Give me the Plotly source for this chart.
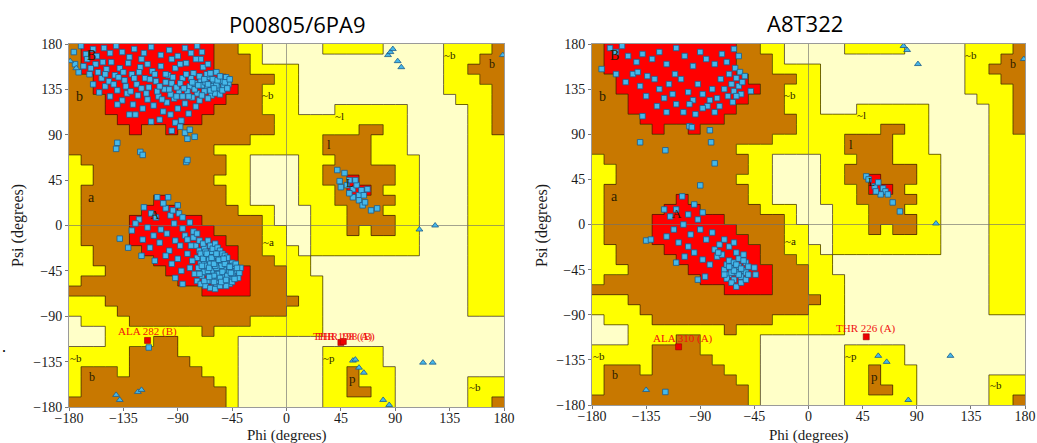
import plotly.graph_objects as go

# ---------------- region map (PROCHECK style, 10 degree cells) ----------------
# rows: psi 180 -> -180 (top to bottom), columns: phi -180 -> 180
# W = disallowed, Y = generously allowed, B = additionally allowed, R = core
REGION_RLE = [
    "B1 R11 B2 Y2 W5 Y5 W5 Y4 B1",
    "B1 R11 B3 Y1 W15 Y3 B2",
    "B1 R11 B3 Y4 W12 Y2 B3",
    "B2 R11 B4 Y2 W12 Y3 B2",
    "B2 R12 B2 Y3 W12 Y4 B1",
    "B3 R10 B3 Y3 W13 Y3 B1",
    "B3 R9 B4 Y3 W3 Y6 W5 Y2 B1",
    "B4 R7 B6 Y11 W5 Y2 B1",
    "B5 R1 B2 R1 B8 Y7 B2 Y2 W5 Y2 B1",
    "B15 Y6 B4 Y3 W5 Y3",
    "B12 Y9 B4 Y3 W5 Y3",
    "Y1 B12 Y2 W4 Y3 B3 Y4 W4 Y3",
    "Y2 B11 Y2 W4 Y2 B6 Y2 W4 Y3",
    "Y2 B10 Y3 W4 Y2 B2 R1 B3 Y2 W4 Y3",
    "Y1 B12 Y2 W4 Y3 B1 R2 B1 Y3 W4 Y3",
    "Y1 B6 R1 B5 Y2 W4 Y3 B5 Y2 W4 Y3",
    "Y1 B5 R3 B5 Y3 W3 Y3 B3 Y3 W4 Y3",
    "Y1 B4 R6 B5 Y1 W3 Y3 B4 Y2 W4 Y3",
    "Y1 B4 R7 B4 Y2 W2 Y3 B1 Y1 B2 Y2 W4 Y3",
    "Y1 B4 R8 B3 Y2 W2 Y9 W4 Y3",
    "Y2 B4 R8 B2 Y3 W1 Y9 W4 Y3",
    "Y2 B5 R7 B3 Y3 W13 Y3",
    "Y3 B5 R7 B3 Y2 W13 Y3",
    "Y1 B8 R6 B3 Y3 W12 Y3",
    "B11 R4 B3 Y3 W12 Y3",
    "Y3 B16 Y2 W12 Y3",
    "Y4 B14 Y3 W12 Y3",
    "W1 Y4 B10 Y6 W15",
    "W3 Y8 B1 Y9 W15",
    "W3 Y4 B2 Y5 W22",
    "Y5 B4 Y5 W7 Y5 W10",
    "Y5 B5 Y4 W7 Y5 W10",
    "Y1 B3 Y1 B6 Y3 W7 Y2 B1 Y3 W9",
    "Y1 B11 Y2 W7 Y2 B1 Y3 W6 Y3",
    "Y1 B12 Y1 W7 Y2 B2 Y2 W6 Y3",
    "B13 Y1 W7 Y6 W6 Y2 B1",
]
REGION_CODES = {"W": 0, "Y": 1, "B": 2, "R": 3}
REGION_COLORS = ["#FFFFC8", "#FFFF00", "#C87800", "#FF0000"]

PHI_CENTERS = [-175 + 10 * i for i in range(36)]
PSI_CENTERS = [175 - 10 * j for j in range(36)]
TICKS = [-180, -135, -90, -45, 0, 45, 90, 135, 180]

REGION_LABELS = [
    ("B", -161, 169, 14), ("b", -171, 128, 14), ("a", -161, 28, 14), ("A", -109, 11, 13),
    ("~b", -15, 129, 11), ("~l", 44, 109, 11), ("l", 35, 80, 13), ("L", 52, 42, 12),
    ("~a", -15, -16, 11), ("~b", -174, -131, 11), ("b", -161, -150, 12),
    ("~p", 35, -131, 11), ("p", 55, -152, 13), ("~b", 156, -160, 11),
    ("~b", 135, 169, 11), ("b", 170, 160, 12),
]

# ---------------- residues, left panel (P00805/6PA9) ----------------
LEFT_RES = [
    (-176,172),(-170,178),(-166,170),(-160,175),(-157,168),(-151,176),(-146,171),(-141,178),(-136,172),(-130,167),
    (-126,175),(-118,171),(-112,177),(-104,169),(-97,174),(-90,168),(-84,176),(-79,171),(-74,178),(-71,165),
    (-168,158),(-163,150),(-158,160),(-153,146),(-149,155),(-145,162),(-142,149),(-138,156),(-134,144),(-131,161),
    (-128,150),(-124,140),(-121,157),(-117,146),(-114,137),(-111,153),(-108,143),(-104,158),(-101,135),(-98,149),
    (-95,141),(-92,156),(-89,133),(-86,146),(-83,161),(-80,138),(-77,151),(-74,131),(-71,144),(-69,157),
    (-66,136),(-64,147),(-62,129),(-60,141),(-58,152),(-56,134),(-54,143),(-52,138),(-50,147),(-48,140),
    (-160,140),(-155,132),(-150,138),(-146,128),(-140,134),(-136,124),(-132,131),(-127,120),(-123,129),(-119,116),
    (-115,125),(-110,119),(-106,128),(-102,113),(-99,122),(-96,110),(-93,126),(-90,116),(-87,104),(-84,121),
    (-81,111),(-78,127),(-75,118),(-72,124),(-68,133),(-65,126),(-62,138),(-59,131),(-57,137),(-55,130),
    (-70,139),(-67,142),(-63,134),(-61,145),(-58,139),(-66,150),(-72,148),(-76,141),(-79,146),(-82,133),
    (-86,128),(-91,137),(-96,130),(-100,142),(-107,133),(-92,102),(-88,98),(-84,92),(-95,94),(-80,95),
    (-76,88),(-82,86),(-140,82),(-141,76),(-121,73),(-119,70),(-83,63),(-82,65),(-112,103),(-130,110),
    (-150,150),(-175,160),(-172,152),
    (-165,165),(-162,156),(-156,152),(-152,162),(-147,143),(-143,140),(-139,147),(-135,152),(-133,138),(-129,133),
    (-126,146),(-122,152),(-120,136),(-116,131),(-113,145),(-109,150),(-105,138),(-103,125),(-100,150),(-97,135),
    (-94,147),(-91,128),(-88,141),(-85,136),(-83,150),(-81,128),(-78,142),(-76,135),(-73,139),(-70,129),
    (-68,145),(-65,140),(-63,151),(-60,136),(-57,144),(-55,148),(-53,134),(-51,142),(-49,136),(-47,145),
    (-120,165),(-115,160),(-95,165),(-88,160),(-75,165),(-70,172),(-65,160),(-140,120),(-125,110),(-105,105),
    (-107,28),(-118,18),(-112,12),(-122,6),(-128,-5),(-138,-13),(-131,-22),(-125,2),(-115,-2),(-108,8),
    (-100,17),(-96,10),(-104,-4),(-110,-10),(-119,-14),(-113,-22),(-105,-17),(-99,-8),(-93,2),(-89,12),
    (-86,-3),(-92,-15),(-97,-25),(-88,-20),(-84,-10),(-80,3),(-77,-6),(-82,-28),(-90,-33),(-95,-38),
    (-87,-45),(-92,-52),(-86,-58),(-100,-30),(-109,-35),(-120,-30),
    (-75,-20),(-72,-25),(-70,-30),(-68,-22),(-66,-35),(-64,-28),(-62,-40),(-60,-33),(-58,-45),(-56,-38),
    (-54,-50),(-52,-42),(-50,-47),(-48,-53),(-46,-44),(-44,-49),(-42,-45),(-40,-52),
    (-74,-32),(-71,-38),(-69,-44),(-67,-30),(-65,-42),(-63,-48),(-61,-36),(-59,-52),(-57,-30),(-55,-44),
    (-53,-36),(-51,-55),(-49,-40),(-47,-58),(-45,-37),
    (-73,-42),(-70,-50),(-68,-37),(-66,-47),(-64,-55),(-62,-26),(-60,-43),(-58,-58),(-56,-26),(-54,-32),
    (-52,-50),(-50,-35),(-48,-46),(-46,-52),(-44,-40),
    (-72,-15),(-69,-18),(-65,-15),(-63,-20),(-61,-23),(-59,-18),(-57,-22),(-55,-25),(-53,-28),(-51,-30),
    (-49,-32),(-78,-35),(-80,-42),(-76,-48),(-74,-55),(-71,-58),(-67,-60),(-63,-62),(-59,-63),(-55,-60),
    (-50,-60),(-45,-56),(-42,-38),(-39,-47),(-38,-42),(-66,-40),(-62,-45),(-58,-38),(-56,-48),(-52,-44),
    (-60,-50),(-64,-34),(-68,-46),(-54,-40),(-58,-42),
    (-102,22),(-98,28),(-94,15),(-90,20),(-86,8),(-82,-14),(-79,-20),(-77,-12),(-74,-8),(-71,-28),
    (-69,-33),(-67,-26),(-65,-45),(-63,-38),(-61,-55),(-59,-40),(-57,-55),(-55,-52),(-53,-46),(-51,-38),
    (-49,-50),(-47,-41),(-45,-48),(-43,-53),(-41,-42),(-70,-40),(-72,-48),(-68,-55),(-64,-42),(-60,-38),
    (-56,-34),(-52,-33),(-66,-28),(-62,-32),(-58,-28),(-54,-56),(-50,-54),(-46,-47),(-60,-56),(-64,-51),
    (42,55),(48,52),(44,44),(50,40),(52,45),(55,36),(58,40),(60,30),(62,35),(55,28),
    (60,25),(63,20),(65,23),(70,15),(52,32),(57,45),(64,30),(67,36),(75,17),(45,38),
    (-114,-121),
]
LEFT_GLY = [
    (84,169),(86,172),(88,175),(92,163),(95,157),(179,169),(-179,163),(-174,156),
    (110,-4),(123,0),(113,-136),(121,-136),(55,-134),(57,-133),(60,-141),(64,-146),
    (80,-173),(85,-178),(-141,-168),(-138,-173),(-123,-165),(-120,-163),
]
LEFT_FLAG = [("ALA 282 (B)", -115, -114, -115, -105), ("THR 198 (A)", 45, -116, 47, -110),
             ("THR 198 (B)", 47, -115, 49, -110)]

# ---------------- residues, right panel (A8T322) ----------------
RIGHT_RES = [
    (-165,176),(-160,172),(-155,178),(-150,168),(-143,162),(-138,170),(-130,165),(-124,172),(-118,160),(-110,176),
    (-103,168),(-96,158),(-90,172),(-85,165),(-78,160),(-72,170),(-68,162),(-62,175),(-58,168),(-172,155),
    (-160,150),(-152,142),(-146,150),(-140,138),(-135,128),(-128,145),(-124,135),(-120,126),(-116,140),(-113,130),
    (-110,120),(-106,145),(-100,132),(-96,124),(-92,140),(-88,130),(-84,118),(-80,135),(-76,126),(-73,145),
    (-70,135),(-67,128),(-64,140),(-62,133),(-60,146),(-58,138),(-56,130),(-55,142),(-63,122),(-48,133),
    (-142,152),(-134,148),(-126,118),(-118,112),(-111,150),(-104,112),(-99,120),(-94,110),(-88,116),(-82,124),
    (-78,112),(-74,118),(-66,150),(-61,156),(-57,152),(-53,148),(-60,128),(-138,108),(-99,98),(-97,97),
    (-82,94),(-81,82),(-119,74),(-140,82),(-78,61),(-90,39),
    (-135,-16),(-131,-15),(-105,28),(-115,8),(-110,15),(-120,15),(-100,10),(-95,20),(-88,12),(-92,5),
    (-104,0),(-112,-5),(-118,-12),(-108,-18),(-98,-10),(-90,-5),(-85,-15),(-80,-8),(-95,-28),(-88,-35),
    (-100,-22),(-110,-38),(-103,-32),(-92,-55),(-86,-52),(-78,-25),(-74,-20),(-70,-15),(-76,-32),(-66,-22),
    (-62,-18),(-60,-28),
    (-70,-45),(-68,-40),(-66,-50),(-64,-44),(-62,-55),(-60,-48),(-58,-42),(-56,-52),(-54,-46),(-52,-38),
    (-66,-36),(-62,-38),(-58,-34),(-54,-30),(-68,-54),(-64,-58),(-60,-62),(-56,-58),(-52,-48),(-50,-42),
    (-64,-48),(-60,-40),(-56,-44),(-52,-55),(-58,-50),(-62,-46),(-66,-42),(-70,-50),(-54,-36),(-50,-50),
    (-45,-43),(-44,-50),(-72,-30),(-75,-28),(-82,-40),
    (48,48),(50,45),(55,38),(58,42),(62,36),(64,33),(66,30),(60,30),(70,22),(76,13),(56,33),
    (-119,-167),
]
RIGHT_GLY = [
    (79,178),(82,174),(91,160),(179,165),(106,1),(58,-131),(65,-137),(118,-131),(83,-175),(-135,-165),
]
RIGHT_FLAG = [("ALA 310 (A)", -108, -122, -104, -114), ("THR 226 (A)", 48, -112, 48, -104)]

TITLES = ["P00805/6PA9", "A8T322"]

# ---------------- build figure ----------------
def expand(rle):
    out = ""
    for tok in rle.split():
        out += tok[0] * int(tok[1:])
    assert len(out) == 36, (rle, len(out))
    return out

GRID = [expand(r) for r in REGION_RLE]
Z = [[REGION_CODES[ch] for ch in row] for row in GRID]

seg_x, seg_y = [], []
for r in range(36):
    for c in range(35):
        if GRID[r][c] != GRID[r][c + 1]:
            x = -180 + 10 * (c + 1)
            seg_x += [x, x, None]
            seg_y += [180 - 10 * r, 170 - 10 * r, None]
for r in range(35):
    for c in range(36):
        if GRID[r][c] != GRID[r + 1][c]:
            y = 170 - 10 * r
            seg_x += [-180 + 10 * c, -170 + 10 * c, None]
            seg_y += [y, y, None]

colorscale = [[i / 3, col] for i, col in enumerate(REGION_COLORS)]

fig = go.Figure()
panels = [
    ("x", "y", LEFT_RES, LEFT_GLY, LEFT_FLAG),
    ("x2", "y2", RIGHT_RES, RIGHT_GLY, RIGHT_FLAG),
]
serif = "Liberation Serif, Times New Roman, serif"
dot_color = "#45B8EA"
dot_edge = "#1D5C8C"
for xa, ya, res, gly, flag in panels:
    fig.add_trace(go.Heatmap(x=PHI_CENTERS, y=PSI_CENTERS, z=Z, colorscale=colorscale, zmin=0, zmax=3,
                             showscale=False, xaxis=xa, yaxis=ya, hoverinfo="skip"))
    fig.add_trace(go.Scatter(x=seg_x, y=seg_y, mode="lines", xaxis=xa, yaxis=ya,
                             line=dict(color="rgba(50,35,0,0.7)", width=1), hoverinfo="skip"))
    fig.add_trace(go.Scatter(x=[-180, 180], y=[0, 0], mode="lines", xaxis=xa, yaxis=ya,
                             line=dict(color="rgba(110,110,110,0.8)", width=0.8), hoverinfo="skip"))
    fig.add_trace(go.Scatter(x=[0, 0], y=[-180, 180], mode="lines", xaxis=xa, yaxis=ya,
                             line=dict(color="rgba(110,110,110,0.8)", width=0.8), hoverinfo="skip"))
    for txt, lx, ly, sz in REGION_LABELS:
        fig.add_annotation(x=lx, y=ly, xref=xa, yref=ya, text=txt, showarrow=False,
                           font=dict(family=serif, size=sz, color="#2a1c00"))
    fig.add_trace(go.Scatter(x=[p[0] for p in res], y=[p[1] for p in res], mode="markers",
                             xaxis=xa, yaxis=ya,
                             marker=dict(symbol="square", size=5.5, color=dot_color,
                                         line=dict(color=dot_edge, width=0.8))))
    fig.add_trace(go.Scatter(x=[p[0] for p in gly], y=[p[1] for p in gly], mode="markers",
                             xaxis=xa, yaxis=ya,
                             marker=dict(symbol="triangle-up", size=6, color=dot_color,
                                         line=dict(color=dot_edge, width=0.8))))
    fig.add_trace(go.Scatter(x=[f[1] for f in flag], y=[f[2] for f in flag], mode="markers",
                             xaxis=xa, yaxis=ya,
                             marker=dict(symbol="square", size=6, color="#EE0000",
                                         line=dict(color="#990000", width=0.6))))
    for txt, mx, my, tx, ty in flag:
        fig.add_annotation(x=tx, y=ty, xref=xa, yref=ya, text=txt, showarrow=False,
                           font=dict(family=serif, size=11, color="#F01010"))

axis_common = dict(range=[-180, 180], tickvals=TICKS, ticks="outside", ticklen=3, tickcolor="#777",
                   showgrid=False, zeroline=False, showline=True, linecolor="#9a9a9a", linewidth=1,
                   mirror=True, tickfont=dict(family=serif, size=14, color="#1a1a1a"), fixedrange=True,
                   automargin=False)

W, H = 1037, 443
fig.update_layout(
    width=W, height=H, margin=dict(l=0, r=0, t=0, b=0, autoexpand=False),
    paper_bgcolor="white", plot_bgcolor="white", showlegend=False,
    xaxis=dict(domain=[69 / W, 504 / W], anchor="y", ticklabelstandoff=-5, **axis_common),
    yaxis=dict(domain=[1 - 407 / H, 1 - 44 / H], anchor="x", **axis_common),
    xaxis2=dict(domain=[592 / W, 1025 / W], anchor="y2", ticklabelstandoff=-5, **axis_common),
    yaxis2=dict(domain=[1 - 405 / H, 1 - 44 / H], anchor="x2", **axis_common),
)

def paper_text(text, px, py, font, angle=0):
    fig.add_annotation(x=px / W, y=1 - py / H, xref="paper", yref="paper", text=text, showarrow=False,
                       xanchor="center", yanchor="middle", textangle=angle, font=font)

title_pos = [(297, 24), (805, 23)]
for t, (px, py) in zip(TITLES, title_pos):
    paper_text(t, px, py, dict(family="Open Sans, Noto Sans, sans-serif", size=22, color="#000"))
for px in (287, 809):
    paper_text("Phi (degrees)", px, 435, dict(family=serif, size=15, color="#1a1a1a"))
for px in (18, 542):
    paper_text("Psi (degrees)", px, 226, dict(family=serif, size=16, color="#1a1a1a"), angle=-90)
paper_text(".", 4, 346, dict(family=serif, size=16, color="#000"))

fig.write_html("out.html", config={"displayModeBar": False},
               post_script="document.body.style.margin='0px';")
